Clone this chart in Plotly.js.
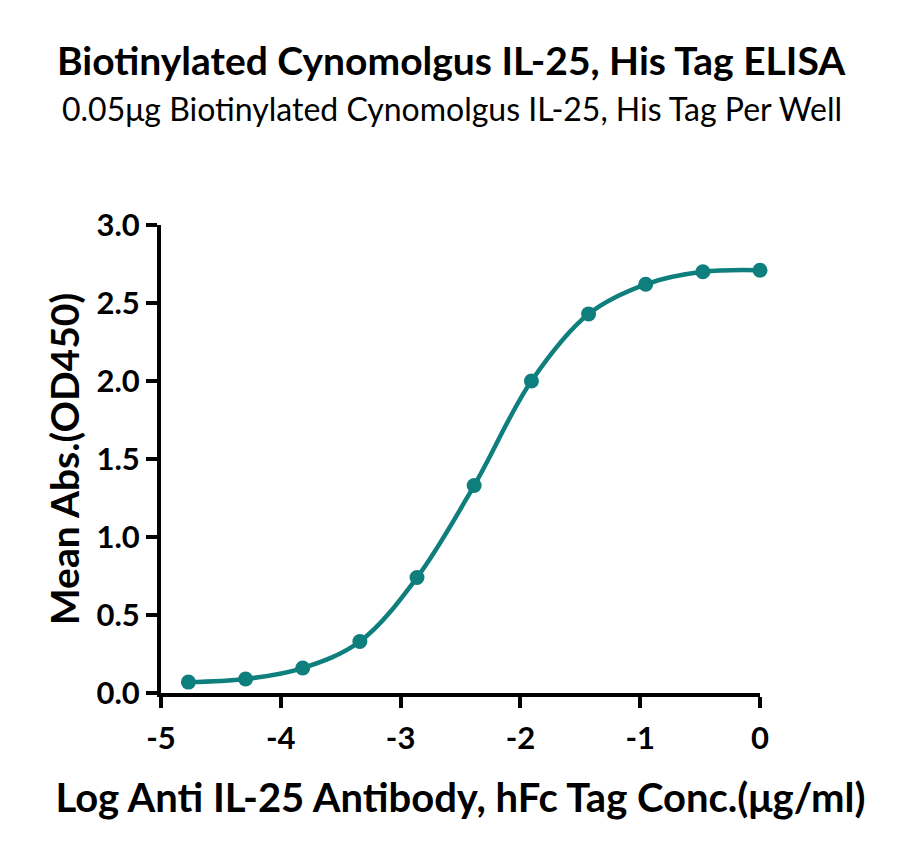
<!DOCTYPE html>
<html>
<head>
<meta charset="utf-8">
<script src="https://cdn.plot.ly/plotly-3.0.1.min.js"></script>
<style>
  body { margin: 0; background: #fff; }
  #chart { width: 900px; height: 850px; }
</style>
</head>
<body>
<div id="chart"></div>
<script>
// ELISA readings, 3-fold dilution series (log10 ug/ml)
const logConc = [-4.771, -4.294, -3.817, -3.340, -2.863, -2.386, -1.908, -1.431, -0.954, -0.477, 0];
const meanAbs = [0.07, 0.09, 0.16, 0.33, 0.74, 1.33, 2.00, 2.43, 2.62, 2.70, 2.71];

const xTicks = [-5, -4, -3, -2, -1, 0];
const xTickText = ['-5', '-4', '-3', '-2', '-1', '0'];
const yTicks = [0, 0.5, 1, 1.5, 2, 2.5, 3];
const yTickText = ['0.0', '0.5', '1.0', '1.5', '2.0', '2.5', '3.0'];

const TEAL = '#0f7f7e';
const FONT = 'Lato, "Noto Sans", sans-serif';

const trace = {
  x: logConc,
  y: meanAbs,
  type: 'scatter',
  mode: 'lines+markers',
  line: { color: TEAL, width: 4.5, shape: 'spline', smoothing: 1 },
  marker: { color: TEAL, size: 15 },
  cliponaxis: false,
  hoverinfo: 'x+y'
};

const layout = {
  width: 900,
  height: 850,
  margin: { l: 161, r: 140, t: 225, b: 157 },
  paper_bgcolor: '#fff',
  plot_bgcolor: '#fff',
  showlegend: false,
  font: { family: FONT, color: '#000' },
  xaxis: {
    range: [-5, 0],
    tickvals: xTicks,
    ticktext: xTickText,
    showgrid: false,
    zeroline: false,
    showline: true,
    linecolor: '#000',
    linewidth: 4,
    ticks: 'outside',
    ticklen: 11,
    tickwidth: 4,
    tickcolor: '#000',
    ticklabelstandoff: 4,
    tickfont: { size: 31, family: FONT, weight: 'bold' },
    title: {
      text: 'Log Anti IL-25 Antibody, hFc Tag Conc.(μg/ml)',
      font: { size: 40, family: FONT, weight: 'bold' },
      standoff: 30
    }
  },
  yaxis: {
    range: [0, 3],
    tickvals: yTicks,
    ticktext: yTickText,
    showgrid: false,
    zeroline: false,
    showline: true,
    linecolor: '#000',
    linewidth: 4,
    ticks: 'outside',
    ticklen: 11,
    tickwidth: 4,
    tickcolor: '#000',
    tickfont: { size: 31, family: FONT, weight: 'bold' },
    title: {
      text: 'Mean Abs.(OD450)',
      font: { size: 39, family: FONT, weight: 'bold' },
      standoff: 6
    }
  },
  annotations: [
    {
      text: 'Biotinylated Cynomolgus IL-25, His Tag ELISA',
      xref: 'paper', yref: 'paper', x: 0.485, y: 1.0, yshift: 165,
      showarrow: false, xanchor: 'center', yanchor: 'middle',
      font: { size: 39, family: FONT, weight: 'bold', color: '#000' }
    },
    {
      text: '0.05μg Biotinylated Cynomolgus IL-25, His Tag Per Well',
      xref: 'paper', yref: 'paper', x: 0.485, y: 1.0, yshift: 117,
      showarrow: false, xanchor: 'center', yanchor: 'middle',
      font: { size: 32, family: FONT, color: '#000' }
    }
  ]
};

Plotly.newPlot('chart', [trace], layout, { displayModeBar: false, staticPlot: true });
</script>
</body>
</html>
